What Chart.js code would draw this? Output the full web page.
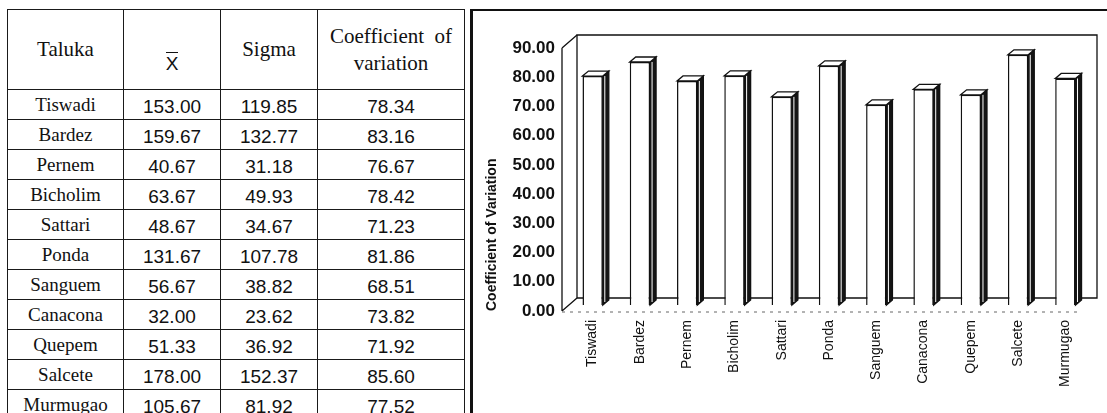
<!DOCTYPE html>
<html>
<head>
<meta charset="utf-8">
<title>Coefficient of variation by taluka</title>
<script src="https://cdn.jsdelivr.net/npm/chart.js@4.4.1/dist/chart.umd.min.js"></script>
<style>
  html, body { margin: 0; padding: 0; background: #fff; }
  body { width: 1107px; height: 413px; position: relative; overflow: hidden; }

  /* left: the statistics table */
  #stats { position: absolute; left: 7px; top: 9px; width: 457px; border-collapse: collapse; table-layout: fixed; }
  #stats th, #stats td { border: 1px solid #1a1a1a; padding: 0; text-align: center; color: #111; box-sizing: border-box; }
  #stats th { height: 80px; font: normal 21px "Liberation Serif", "Times New Roman", serif; line-height: 27px; }
  #stats td { height: 30px; font: 19px "Liberation Sans", Arial, sans-serif; padding-top: 4px; }
  #stats td.name { font: 19px "Liberation Serif", "Times New Roman", serif; padding-top: 0; }
  #stats th.xbar { vertical-align: top; padding-top: 40px; font-family: "Liberation Sans", Arial, sans-serif; font-size: 19px; }
  .overbar { display: inline-block; border-top: 1.5px solid #111; padding-top: 3px; line-height: 15px; }

  /* right: the chart panel */
  .panel { position: absolute; left: 470px; top: 9px; width: 637px; height: 404px;
           border-left: 3px solid #111; border-top: 2px solid #111; }
  #cvChart { position: absolute; left: 474px; top: 12px; }
</style>
</head>
<body>

<table id="stats">
  <colgroup>
    <col style="width:116px"><col style="width:97px"><col style="width:97px"><col style="width:147px">
  </colgroup>
  <thead>
    <tr>
      <th>Taluka</th>
      <th class="xbar"><span class="overbar">X</span></th>
      <th>Sigma</th>
      <th>Coefficient&nbsp; of<br>variation</th>
    </tr>
  </thead>
  <tbody></tbody>
</table>

<div class="panel"></div>
<canvas id="cvChart" width="633" height="401"></canvas>

<script>
const talukas = ['Tiswadi', 'Bardez', 'Pernem', 'Bicholim', 'Sattari', 'Ponda',
                 'Sanguem', 'Canacona', 'Quepem', 'Salcete', 'Murmugao'];
const meanValues  = [153.00, 159.67, 40.67, 63.67, 48.67, 131.67, 56.67, 32.00, 51.33, 178.00, 105.67];
const sigmaValues = [119.85, 132.77, 31.18, 49.93, 34.67, 107.78, 38.82, 23.62, 36.92, 152.37, 81.92];
const cvValues    = [78.34, 83.16, 76.67, 78.42, 71.23, 81.86, 68.51, 73.82, 71.92, 85.60, 77.52];
const yTickValues = [0, 10, 20, 30, 40, 50, 60, 70, 80, 90];

// --- table rows ---
const tbody = document.querySelector('#stats tbody');
talukas.forEach((name, i) => {
    const tr = document.createElement('tr');
    tr.innerHTML = `<td class="name">${name}</td>` +
        `<td>${meanValues[i].toFixed(2)}</td>` +
        `<td>${sigmaValues[i].toFixed(2)}</td>` +
        `<td>${cvValues[i].toFixed(2)}</td>`;
    tbody.appendChild(tr);
});

// --- fake 3D look: offsets (px) of the front plane, back wall and bar depth ---
const DEPTH = {
    front: { dx: -7, dy: 6 },
    back:  { dx: 8,  dy: -7 },
    bar:   { dx: 6,  dy: -5 }
};
const AREA_H = 269;                                    // chart area height set by the layout below
const yTop = yTickValues[yTickValues.length - 1];
const padVal = yTop * DEPTH.front.dy / (AREA_H - DEPTH.front.dy);
const FONT = '"Liberation Sans", Arial, sans-serif';

const box3d = {
    id: 'box3d',
    beforeDatasetsDraw(chart) {
        const { ctx, chartArea: a, scales: { y } } = chart;
        const b = DEPTH.back, f = DEPTH.front;
        const top = y.getPixelForValue(yTop), base = y.getPixelForValue(0);
        ctx.save();
        ctx.strokeStyle = '#111';
        ctx.lineWidth = 1.3;
        // back wall
        ctx.beginPath();
        ctx.moveTo(a.left + b.dx, base + b.dy);
        ctx.lineTo(a.left + b.dx, top + b.dy);
        ctx.lineTo(a.right + b.dx, top + b.dy);
        ctx.lineTo(a.right + b.dx, base + b.dy);
        ctx.closePath();
        ctx.stroke();
        // left wall: front axis + the two depth edges
        ctx.beginPath();
        ctx.moveTo(a.left + f.dx, top + f.dy);
        ctx.lineTo(a.left + f.dx, base + f.dy);
        ctx.moveTo(a.left + f.dx, top + f.dy);
        ctx.lineTo(a.left + b.dx, top + b.dy);
        ctx.moveTo(a.left + f.dx, base + f.dy);
        ctx.lineTo(a.left + b.dx, base + b.dy);
        ctx.stroke();
        // front edge of the floor, faint
        ctx.setLineDash([3, 5]);
        ctx.strokeStyle = '#666';
        ctx.lineWidth = 1;
        ctx.beginPath();
        ctx.moveTo(a.left + f.dx, base + f.dy + 1);
        ctx.lineTo(a.right + f.dx, base + f.dy + 1);
        ctx.stroke();
        ctx.restore();
    },
    afterDatasetsDraw(chart) {
        const { ctx } = chart;
        const d = DEPTH.bar;
        ctx.save();
        ctx.lineWidth = 1.3;
        ctx.strokeStyle = '#111';
        chart.getDatasetMeta(0).data.forEach(bar => {
            const { x, y, base, width } = bar.getProps(['x', 'y', 'base', 'width'], true);
            const l = x - width / 2, r = x + width / 2;
            // right side face
            ctx.fillStyle = '#151515';
            ctx.beginPath();
            ctx.moveTo(r, y);
            ctx.lineTo(r + d.dx, y + d.dy);
            ctx.lineTo(r + d.dx, base + d.dy);
            ctx.lineTo(r, base);
            ctx.closePath();
            ctx.fill();
            ctx.stroke();
            // thin highlight on the side
            ctx.save();
            ctx.strokeStyle = '#fff';
            ctx.lineWidth = 1;
            ctx.beginPath();
            ctx.moveTo(r + 2, y);
            ctx.lineTo(r + 2, base - 3);
            ctx.stroke();
            ctx.restore();
            // top face
            ctx.fillStyle = '#fff';
            ctx.beginPath();
            ctx.moveTo(l, y);
            ctx.lineTo(l + d.dx, y + d.dy);
            ctx.lineTo(r + d.dx, y + d.dy);
            ctx.lineTo(r, y);
            ctx.closePath();
            ctx.fill();
            ctx.stroke();
        });
        ctx.restore();
    }
};

new Chart(document.getElementById('cvChart'), {
    type: 'bar',
    data: {
        labels: talukas,
        datasets: [{
            data: cvValues,
            yAxisID: 'y',
            backgroundColor: '#fff',
            borderColor: '#111',
            borderWidth: 1.5,
            categoryPercentage: 1,
            barPercentage: 0.43
        }]
    },
    options: {
        responsive: false,
        animation: false,
        layout: { padding: { top: 30, right: 18, left: 0, bottom: 0 } },
        plugins: { legend: { display: false }, tooltip: { enabled: false } },
        scales: {
            x: {
                grid: { display: false, drawTicks: false },
                border: { display: false },
                ticks: {
                    autoSkip: false, maxRotation: 90, minRotation: 90, padding: 9,
                    color: '#111', font: { family: FONT, size: 14 }
                },
                afterFit(scale) { scale.height = 102; }
            },
            // scale of the bars (middle depth plane)
            y: { display: false, min: -padVal, max: yTop },
            // visible axis, on the front plane
            yF: {
                position: 'left',
                min: 0,
                max: yTop + padVal,
                grid: { display: false, drawTicks: false },
                border: { display: false },
                afterBuildTicks(scale) { scale.ticks = yTickValues.map(v => ({ value: v })); },
                ticks: {
                    padding: 14, color: '#111',
                    font: { family: FONT, size: 17, weight: 'bold' },
                    callback: v => Number(v).toFixed(2)
                },
                title: {
                    display: true, text: 'Coefficient of Variation', align: 'start',
                    color: '#111', font: { family: FONT, size: 14, weight: 'bold' },
                    padding: { top: 10, bottom: 0 }
                },
                afterFit(scale) { scale.width = 95; }
            }
        }
    },
    plugins: [box3d]
});
</script>
</body>
</html>
